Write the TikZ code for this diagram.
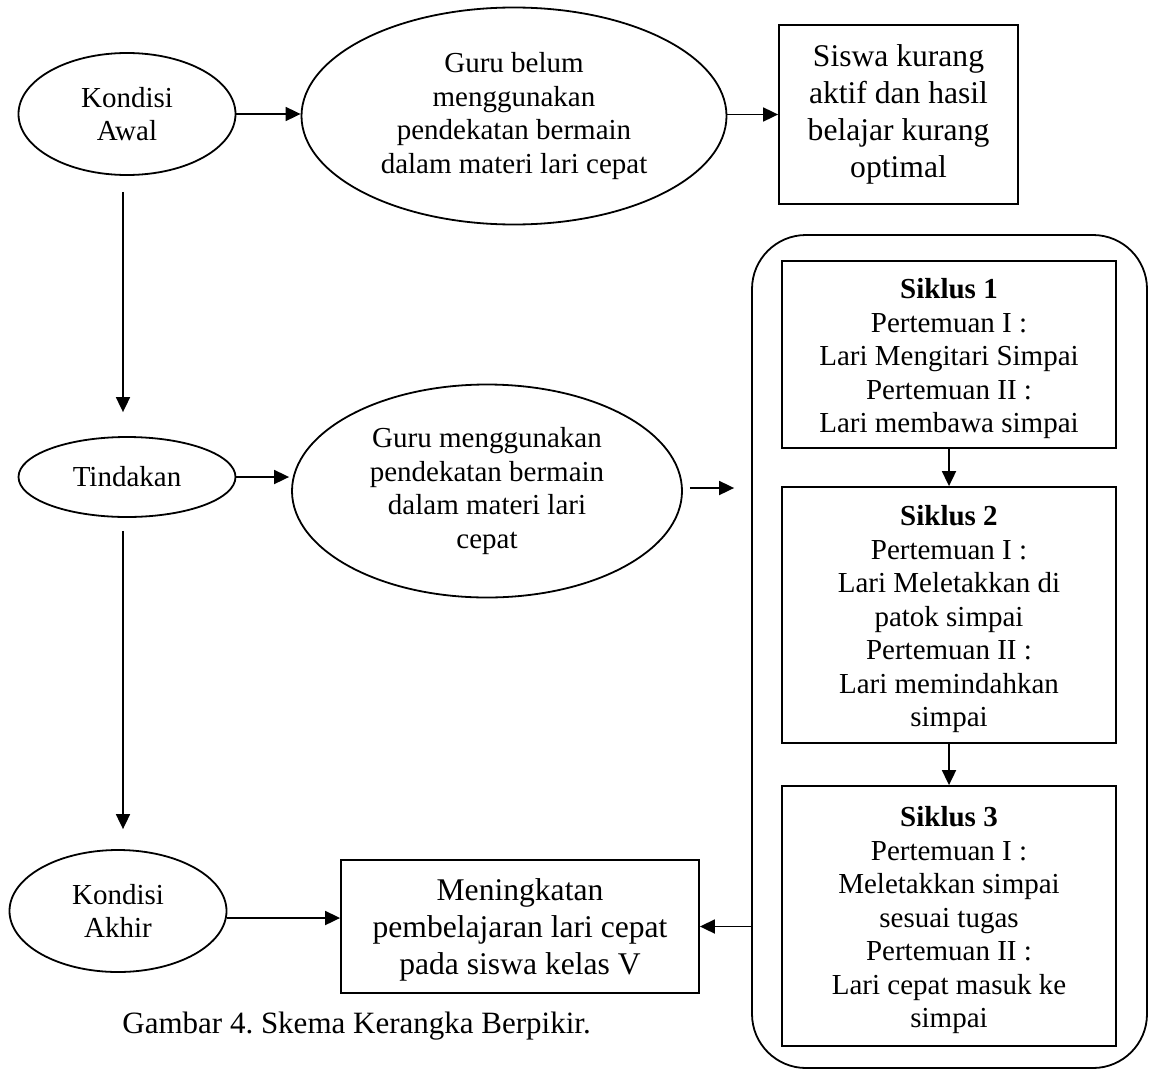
\documentclass[tikz,border=0pt]{standalone}
\usepackage{fontspec}
\setmainfont{Liberation Serif}
\usetikzlibrary{shapes.geometric,arrows.meta}
\frenchspacing
% push box text a little down, as in the source
\newcommand{\turun}{\rule{0pt}{14.5pt}}

\tikzset{
  txt/.style={font=\fontsize{14.5}{16.75}\selectfont, align=center},
  bigtxt/.style={font=\fontsize{15.8}{18.5}\selectfont, align=center},
  oval/.style={draw, ellipse, line width=0.9pt, inner sep=0pt, txt},
  kotak/.style={draw, rectangle, line width=0.9pt, inner sep=0pt},
  panah/.style={-{Triangle[length=7.5pt,width=7pt]}, line width=0.9pt}
}

\begin{document}
\begin{tikzpicture}[x=0.5pt, y=-0.5pt]
  \useasboundingbox (0,0) rectangle (1149,1070);
  % kondisi awal row
  \node[oval, minimum width=108.5pt, minimum height=61pt] (awal) at (127,114) {Kondisi\\Awal};
  \node[oval, minimum width=212.5pt, minimum height=108.5pt] (belum) at (514,116) {Guru belum\\menggunakan\\pendekatan bermain\\dalam materi lari cepat};
  \node[kotak, bigtxt, minimum width=119.5pt, minimum height=89.5pt] (siswa) at (898.5,114.5) {Siswa kurang\\aktif dan hasil\\belajar kurang\\optimal};
  % tindakan row
  \node[oval, minimum width=108.5pt, minimum height=40pt] (tindakan) at (127,477) {Tindakan};
  \node[oval, minimum width=195pt, minimum height=106.5pt] (pakai) at (487,491) {Guru menggunakan\\pendekatan bermain\\dalam materi lari\\cepat};
  % kondisi akhir row
  \node[oval, minimum width=108.5pt, minimum height=61pt] (akhir) at (118,911) {Kondisi\\Akhir};
  \node[kotak, bigtxt, minimum width=179pt, minimum height=66.5pt] (hasil) at (520,926.5) {\turun Meningkatan\\pembelajaran lari cepat\\pada siswa kelas V};
  % siklus
  \node[draw, line width=0.9pt, rounded corners=27pt, minimum width=197.5pt, minimum height=416.5pt] (wadah) at (949.5,651.5) {};
  \node[kotak, txt, minimum width=167pt, minimum height=93.5pt] (siklus1) at (949,354.5) {\turun\textbf{Siklus 1}\\Pertemuan I :\\Lari Mengitari Simpai\\Pertemuan II :\\Lari membawa simpai};
  \node[kotak, txt, minimum width=167pt, minimum height=128pt] (siklus2) at (949,615) {\turun\textbf{Siklus 2}\\Pertemuan I :\\Lari Meletakkan di\\patok simpai\\Pertemuan II :\\Lari memindahkan\\simpai};
  \node[kotak, txt, minimum width=167pt, minimum height=130pt] (siklus3) at (949,916) {\turun\textbf{Siklus 3}\\Pertemuan I :\\Meletakkan simpai\\sesuai tugas\\Pertemuan II :\\Lari cepat masuk ke\\simpai};
  \node[anchor=base west, font=\fontsize{15.5}{18}\selectfont, inner sep=0pt] (judul) at (122,1033) {Gambar 4. Skema Kerangka Berpikir.};
  % Draw the arrows
  \draw[panah] (awal.east) -- (awal.east -| belum.west);
  \draw[panah] (siswa.west -| belum.east) -- (siswa.west);
  \draw[panah, shorten <=8pt, shorten >=12pt] ([xshift=-2pt]awal.south) -- ([xshift=-2pt]tindakan.north);
  \draw[panah] (tindakan.east) -- ([xshift=-1pt]tindakan.east -| pakai.west);
  \draw[panah, shorten <=3.5pt, shorten >=8.5pt] ([yshift=1.5pt]pakai.east) -- ([yshift=1.5pt]pakai.east -| wadah.west);
  \draw[panah, shorten <=6.5pt, shorten >=10pt] ([xshift=-2pt]tindakan.south) -- ([xshift=-2pt]tindakan.south |- akhir.north);
  \draw[panah] ([yshift=-3.5pt]akhir.east) -- ([yshift=-3.5pt]akhir.east -| hasil.west);
  \draw[panah] (siklus1.south) -- (siklus2.north);
  \draw[panah] (siklus2.south) -- (siklus3.north);
  \draw[panah] (wadah.west |- hasil.east) -- (hasil.east);
\end{tikzpicture}
\end{document}
